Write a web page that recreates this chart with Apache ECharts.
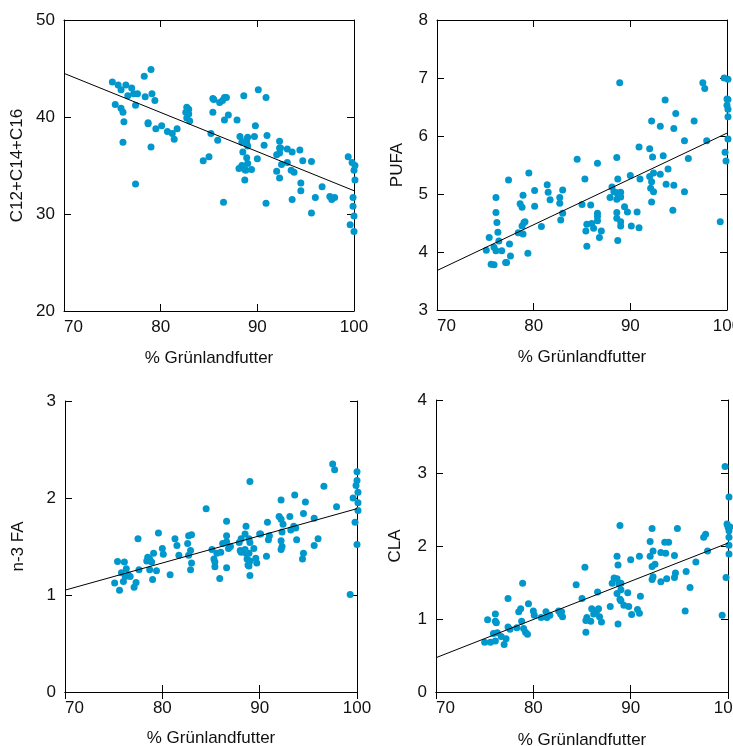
<!DOCTYPE html>
<html><head><meta charset="utf-8">
<script src="https://cdn.jsdelivr.net/npm/echarts@6/dist/echarts.min.js"></script>
<style>html,body{margin:0;padding:0;background:#fff}#c{width:733px;height:746px}</style>
</head><body><div id="c"></div>
<script>
const xName = '% Grünlandfutter';
const panelNames = ['C12+C14+C16', 'PUFA', 'n-3 FA', 'CLA'];
const xTicks = [70, 80, 90, 100];
const yRanges = [[20, 50, 10], [3, 8, 1], [0, 3, 1], [0, 4, 1]];

const c16Points = [
[75.0,43.6],[75.6,43.3],[75.9,42.8],[76.4,43.3],[77.0,43.0],[76.6,42.2],[77.2,42.4],[77.6,42.4],[78.3,44.2],[79.0,44.9],
[78.4,42.1],[79.1,42.4],[79.4,41.7],[75.3,41.3],[75.9,40.9],[76.1,40.5],[76.2,39.5],[77.4,41.2],[76.1,37.4],[77.4,33.1],
[78.7,39.4],[78.7,39.3],[79.0,36.9],[79.5,38.8],[80.1,39.1],[80.7,38.5],[81.2,38.3],[81.4,37.7],[81.7,38.8],[82.7,41.0],
[82.9,40.8],[82.6,40.5],[82.9,40.3],[82.7,39.9],[83.0,39.6],[84.4,35.5],[85.0,35.9],[85.4,41.9],[85.5,41.8],[85.4,40.5],
[85.2,38.3],[85.9,37.6],[86.1,41.5],[86.4,41.7],[86.6,42.0],[86.8,42.0],[86.6,39.7],[87.0,40.2],[86.5,31.2],[87.9,39.7],
[88.6,42.2],[88.2,38.0],[88.4,37.4],[88.9,37.7],[89.0,37.9],[88.9,37.3],[88.5,36.4],[89.0,37.0],[88.1,34.7],[88.4,35.0],
[88.7,34.6],[88.9,35.8],[89.0,35.2],[88.8,34.5],[88.7,33.5],[89.4,34.6],[89.8,39.1],[89.7,38.0],[90.0,35.7],[90.1,42.8],
[90.9,42.0],[91.0,38.1],[90.7,37.1],[90.9,31.1],[92.3,37.5],[92.3,36.8],[92.4,36.8],[92.3,36.3],[92.0,36.1],[92.5,35.1],
[92.0,34.4],[92.3,33.7],[93.1,36.7],[93.6,36.4],[93.1,35.3],[93.5,34.5],[93.8,34.3],[93.6,31.5],[94.4,36.6],[94.7,35.5],
[94.5,33.2],[94.5,32.4],[95.6,35.4],[95.6,30.1],[96.0,31.7],[96.7,32.8],[97.5,31.8],[97.7,31.5],[98.0,31.7],[99.4,35.9],
[99.8,35.3],[100.1,35.0],[100.0,34.5],[100.1,33.5],[99.9,31.7],[99.9,30.8],[100.0,29.8],[99.6,28.9],[100.0,28.2]
];
const pufaPoints = [
[75.1,4.03],[75.4,4.25],[75.6,3.79],[75.9,3.78],[75.9,4.08],[76.1,4.02],[76.1,4.68],[76.1,4.94],[76.2,4.51],[76.3,4.34],
[76.4,4.19],[76.7,4.02],[77.1,3.82],[77.2,3.82],[77.5,4.14],[77.6,3.93],[77.4,5.24],[78.4,4.33],[78.6,4.83],[78.8,4.77],
[78.8,4.45],[79.0,4.51],[79.1,4.52],[78.9,4.98],[78.9,4.31],[79.5,5.36],[79.4,3.98],[80.1,5.06],[80.1,4.79],[80.8,4.44],
[81.4,5.16],[81.5,5.03],[81.7,4.90],[82.7,4.94],[82.7,4.84],[83.0,5.07],[82.8,4.55],[83.0,4.67],[84.5,5.60],[85.3,5.26],
[85.0,4.82],[85.5,4.48],[85.4,4.36],[85.5,4.10],[85.9,4.81],[86.0,4.49],[86.2,4.41],[86.6,5.53],[86.6,4.67],[86.6,4.61],
[86.6,4.54],[86.8,4.25],[87.0,4.36],[87.9,4.94],[88.1,5.12],[88.3,5.04],[88.6,5.02],[88.6,5.63],[88.7,5.26],[88.6,4.91],
[88.6,4.68],[88.6,4.58],[88.7,4.20],[88.9,6.92],[89.0,4.95],[89.0,5.03],[89.0,4.52],[89.0,4.45],[89.4,4.78],[89.7,4.69],
[90.0,5.32],[90.1,4.45],[90.7,4.69],[90.9,5.81],[91.0,5.26],[90.9,4.42],[92.0,5.78],[92.0,5.30],[92.2,6.26],[92.3,5.64],
[92.2,5.21],[92.1,5.10],[92.4,5.36],[92.4,5.04],[92.2,4.86],[93.1,6.17],[93.1,5.34],[93.4,5.66],[93.6,6.62],[93.9,5.43],
[93.7,5.17],[94.5,6.13],[94.7,6.39],[94.5,5.15],[94.4,4.72],[95.6,5.92],[96.0,5.61],[95.6,5.04],[96.6,6.26],[97.5,6.92],
[97.7,6.82],[97.9,5.92],[99.3,4.52],[99.7,7.00],[100.1,6.98],[100.0,6.64],[100.1,6.63],[100.0,6.53],[100.1,6.46],[100.1,6.33],
[100.1,5.95],[99.8,5.72],[99.9,5.57]
];
const n3Points = [
[75.4,1.345],[75.1,1.125],[75.6,1.05],[76.1,1.34],[75.8,1.23],[76.0,1.14],[76.2,1.19],[76.3,1.27],[76.5,1.21],[76.7,1.19],
[77.1,1.08],[77.3,1.13],[77.5,1.58],[77.6,1.26],[78.4,1.35],[78.5,1.39],[78.7,1.37],[78.9,1.34],[78.7,1.26],[79.0,1.16],
[79.1,1.43],[79.4,1.25],[79.6,1.64],[80.0,1.48],[80.1,1.42],[80.8,1.21],[81.3,1.58],[81.5,1.51],[81.7,1.41],[82.7,1.61],
[83.0,1.62],[82.6,1.53],[82.7,1.41],[82.9,1.46],[83.0,1.33],[82.9,1.26],[84.5,1.89],[85.1,1.47],[85.3,1.37],[85.4,1.34],
[85.4,1.29],[85.6,1.43],[86.0,1.44],[85.9,1.17],[86.2,1.53],[86.6,1.76],[86.6,1.61],[86.6,1.55],[86.8,1.48],[87.0,1.50],
[86.6,1.28],[87.9,1.54],[88.1,1.58],[88.0,1.46],[88.1,1.44],[88.5,1.63],[88.6,1.71],[88.5,1.47],[88.6,1.43],[88.7,1.37],
[88.8,1.31],[89.0,2.17],[88.9,1.58],[89.0,1.54],[88.9,1.43],[89.0,1.35],[88.9,1.30],[89.0,1.20],[89.4,1.48],[89.6,1.38],
[89.7,1.33],[90.0,1.63],[90.1,1.63],[90.7,1.40],[90.8,1.75],[91.0,1.61],[90.9,1.57],[92.0,1.81],[92.2,1.98],[92.2,1.78],
[92.4,1.73],[92.3,1.65],[92.2,1.56],[92.3,1.50],[92.2,1.47],[93.1,1.81],[93.2,1.67],[93.5,1.71],[93.6,2.03],[93.7,1.69],
[93.8,1.57],[94.5,1.84],[94.7,1.96],[94.5,1.43],[94.4,1.37],[95.6,1.79],[95.6,1.51],[96.0,1.58],[96.6,2.12],[97.5,2.35],
[97.7,2.29],[97.9,1.91],[99.3,1.005],[99.6,2.00],[99.8,1.75],[100.0,1.52],[100.0,2.27],[100.0,2.18],[99.9,2.13],[100.1,2.06],
[100.1,1.95],[100.1,1.87]
];
const claPoints = [
[75.0,0.68],[75.3,0.99],[75.6,0.68],[75.9,0.80],[76.1,0.70],[76.1,1.07],[76.1,0.97],[76.2,0.95],[76.3,0.81],[76.7,0.76],
[77.0,0.65],[77.2,0.73],[77.4,1.28],[77.4,0.89],[77.6,0.86],[78.3,0.88],[78.5,1.10],[78.7,1.14],[78.8,0.97],[78.9,1.49],
[79.0,0.87],[79.2,0.82],[79.4,0.79],[79.5,1.21],[80.0,1.11],[80.1,1.05],[80.8,1.02],[81.3,1.10],[81.4,1.02],[81.7,1.05],
[82.6,1.11],[82.8,1.07],[82.9,1.10],[83.0,1.03],[84.4,1.47],[85.3,1.71],[85.0,1.28],[85.4,0.98],[85.5,1.02],[85.4,0.82],
[85.9,0.97],[86.0,1.14],[86.2,1.07],[86.5,1.11],[86.6,1.37],[86.7,1.14],[86.8,1.03],[87.0,0.96],[87.9,1.17],[88.1,1.49],
[88.3,1.56],[88.6,1.55],[88.6,1.86],[88.7,1.74],[88.6,1.35],[88.7,0.93],[88.8,1.48],[89.0,1.49],[88.9,2.28],[89.0,1.40],
[88.9,1.27],[89.0,1.25],[89.3,1.19],[89.7,1.36],[89.8,1.17],[90.0,1.81],[90.1,1.06],[90.7,1.13],[90.9,1.08],[90.9,1.86],
[91.0,1.31],[92.0,2.06],[92.0,1.86],[92.2,2.24],[92.3,1.93],[92.2,1.72],[92.5,1.75],[92.2,1.54],[92.3,1.58],[93.1,1.91],
[93.1,1.51],[93.5,2.05],[93.9,2.05],[93.6,1.90],[93.7,1.55],[94.5,1.87],[94.6,1.63],[94.5,1.57],[94.8,2.24],[95.6,1.11],
[95.7,1.65],[96.1,1.43],[96.7,1.78],[97.5,2.12],[97.7,2.16],[97.9,1.93],[99.4,1.05],[99.7,3.09],[99.8,1.57],[99.9,2.30],
[100.0,2.26],[100.1,2.21],[100.2,2.26],[100.1,2.12],[100.1,2.67],[100.1,2.01],[100.1,1.89]
];
const panelPoints = [c16Points, pufaPoints, n3Points, claPoints];
const fitLines = [
  [[70, 44.5], [100, 32.4]],
  [[70, 3.68], [100, 6.05]],
  [[70, 1.05], [100, 1.89]],
  [[70, 0.47], [100, 2.04]]
];

const grids = [
  {left: 64, top: 20, width: 290, height: 291, outerBoundsMode: 'none', containLabel: false},
  {left: 437, top: 20, width: 290, height: 290, outerBoundsMode: 'none', containLabel: false},
  {left: 65, top: 401, width: 292, height: 291, outerBoundsMode: 'none', containLabel: false},
  {left: 436, top: 400, width: 292, height: 292, outerBoundsMode: 'none', containLabel: false}
];
const yNameGaps = [47, 40, 47, 41];
const xNameGaps = [47, 47, 46, 48];
const FONT = '"Liberation Sans", Arial, Helvetica, sans-serif';
const DOT = '#0098cc';

const xAxis = [], yAxis = [], series = [];
grids.forEach((g, i) => {
  const [ymin, ymax, yint] = yRanges[i];
  const axLine = {show: true, lineStyle: {color: '#000', width: 1}};
  const tick = {show: true, inside: true, length: 7, lineStyle: {color: '#000', width: 1}};
  xAxis.push({
    gridIndex: i, type: 'value', min: xTicks[0], max: xTicks[xTicks.length - 1], interval: 10,
    position: 'bottom', axisLine: axLine, axisTick: tick, splitLine: {show: false},
    axisLabel: {color: '#111', fontSize: 17, fontFamily: FONT, margin: 8, alignMinLabel: 'left'},
    name: xName, nameLocation: 'middle', nameGap: xNameGaps[i],
    nameTextStyle: {color: '#111', fontSize: 17, fontFamily: FONT, verticalAlign: 'middle'}
  });
  xAxis.push({
    gridIndex: i, type: 'value', min: xTicks[0], max: xTicks[xTicks.length - 1], interval: 10,
    position: 'top', axisLine: axLine, axisTick: tick, axisLabel: {show: false}, splitLine: {show: false}
  });
  yAxis.push({
    gridIndex: i, type: 'value', min: ymin, max: ymax, interval: yint,
    position: 'left', axisLine: axLine, axisTick: tick, splitLine: {show: false},
    axisLabel: {color: '#111', fontSize: 17, fontFamily: FONT, margin: 9},
    name: panelNames[i], nameLocation: 'middle', nameGap: yNameGaps[i], nameRotate: 90,
    nameTextStyle: {color: '#111', fontSize: 17, fontFamily: FONT, verticalAlign: 'middle'}
  });
  yAxis.push({
    gridIndex: i, type: 'value', min: ymin, max: ymax, interval: yint,
    position: 'right', axisLine: axLine, axisTick: tick, axisLabel: {show: false}, splitLine: {show: false}
  });
  series.push({
    type: 'scatter', xAxisIndex: 2 * i, yAxisIndex: 2 * i, data: panelPoints[i], clip: false,
    symbolSize: 7, itemStyle: {color: DOT, opacity: 1}, silent: true, z: 2
  });
  series.push({
    type: 'line', xAxisIndex: 2 * i, yAxisIndex: 2 * i, data: fitLines[i], clip: false,
    symbol: 'none', lineStyle: {color: '#000', width: 1}, silent: true, z: 3
  });
});

const chart = echarts.init(document.getElementById('c'), null, {renderer: 'canvas'});
chart.setOption({
  animation: false, backgroundColor: '#fff',
  grid: grids, xAxis, yAxis, series
});
</script></body></html>
